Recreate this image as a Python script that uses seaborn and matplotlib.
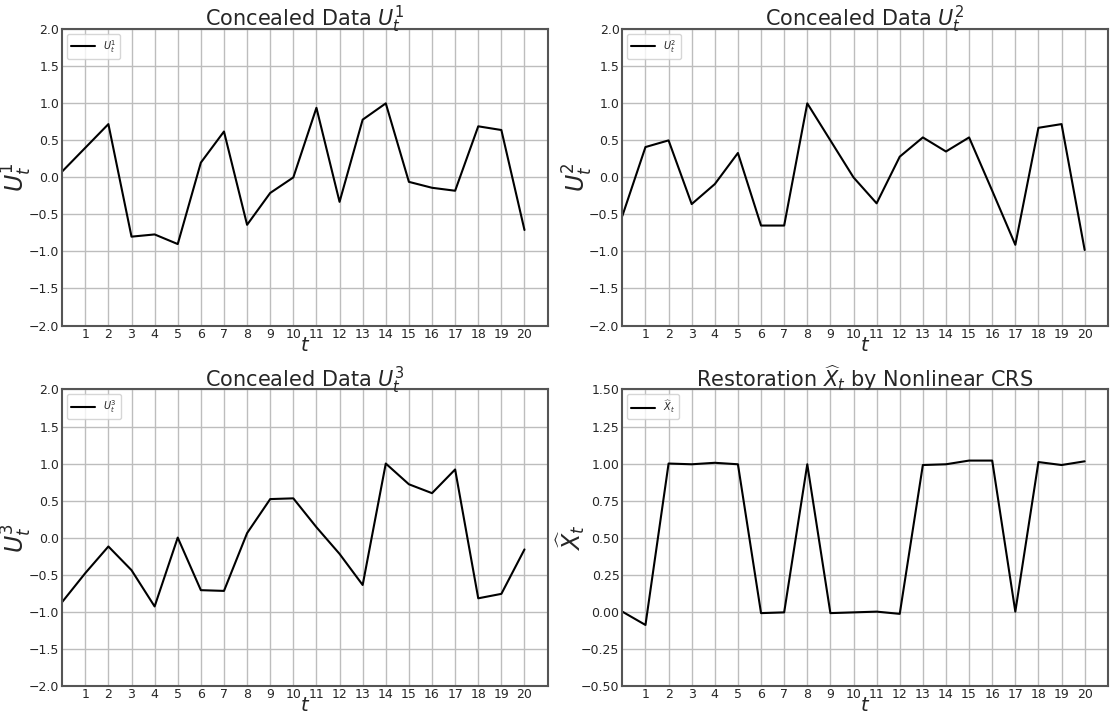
import numpy as np
import pandas as pd
import seaborn as sns
import matplotlib.pyplot as plt

# time steps
t = list(range(21))

# concealed data and restoration
u1 = [0.08, 0.40, 0.72, -0.80, -0.77, -0.90, 0.20, 0.62, -0.64, -0.21, 0.00,
      0.94, -0.33, 0.78, 1.00, -0.06, -0.14, -0.18, 0.69, 0.64, -0.71]
u2 = [-0.52, 0.41, 0.50, -0.36, -0.09, 0.33, -0.65, -0.65, 1.00, 0.50, 0.00,
      -0.35, 0.28, 0.54, 0.35, 0.54, -0.18, -0.91, 0.67, 0.72, -0.98]
u3 = [-0.87, -0.48, -0.12, -0.44, -0.93, 0.00, -0.71, -0.72, 0.06, 0.52, 0.53,
      0.14, -0.22, -0.64, 1.00, 0.72, 0.60, 0.92, -0.82, -0.76, -0.16]
x_hat = [0.00, -0.09, 1.00, 0.995, 1.005, 0.995, -0.01, -0.005, 0.995, -0.01, -0.005,
         0.00, -0.015, 0.99, 0.995, 1.02, 1.02, 0.00, 1.01, 0.99, 1.015]

panels = [
    (u1, r'Concealed Data $U_t^1$', r'$U_t^1$', (-2.0, 2.0), np.arange(-2.0, 2.01, 0.5), '{:.1f}'),
    (u2, r'Concealed Data $U_t^2$', r'$U_t^2$', (-2.0, 2.0), np.arange(-2.0, 2.01, 0.5), '{:.1f}'),
    (u3, r'Concealed Data $U_t^3$', r'$U_t^3$', (-2.0, 2.0), np.arange(-2.0, 2.01, 0.5), '{:.1f}'),
    (x_hat, r'Restoration $\widehat{X}_t$ by Nonlinear CRS', r'$\widehat{X}_t$', (-0.5, 1.5),
     np.arange(-0.5, 1.51, 0.25), '{:.2f}'),
]

sns.set_style('whitegrid')
plt.rcParams['font.family'] = ['DejaVu Sans']

fig, axes = plt.subplots(2, 2, figsize=(11.1, 7.15), dpi=100)
fig.subplots_adjust(left=0.056, right=0.998, top=0.959, bottom=0.041,
                    wspace=0.154, hspace=0.216)

for ax, (vals, title, ylab, ylim, yticks, fmt) in zip(axes.flat, panels):
    df = pd.DataFrame({'t': t, 'v': vals})
    sns.lineplot(data=df, x='t', y='v', ax=ax, color='black', linewidth=1.5, label=ylab)
    ax.set_xlim(0, 21)
    ax.set_ylim(*ylim)
    ax.set_xticks(range(1, 21))
    ax.set_yticks(yticks)
    ax.set_yticklabels([fmt.format(v).replace('-', '\u2212') for v in yticks])
    ax.tick_params(direction='in', labelsize=9, length=3, color='black', pad=2)
    ax.grid(True, color='#bdbdbd', linewidth=1.0)
    for s in ax.spines.values():
        s.set_color('#555555')
        s.set_linewidth(1.5)
    ax.set_title(title, fontsize=15, pad=2)
    ax.set_ylabel(ylab, fontsize=17, labelpad=-4)
    ax.set_xlabel(r'$t$', fontsize=14, labelpad=-4)
    ax.legend(loc='upper left', fontsize=7, frameon=True, handlelength=2.5)

plt.savefig('out.png', dpi=100)
